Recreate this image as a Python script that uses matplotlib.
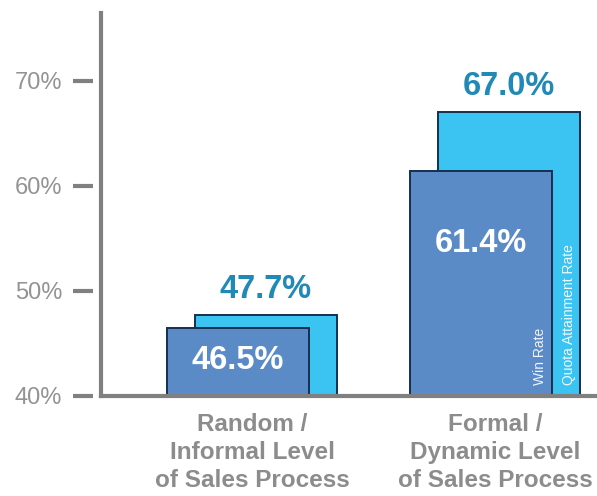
import matplotlib
matplotlib.use("Agg")
import matplotlib.pyplot as plt
import matplotlib.transforms as mtransforms
import numpy as np

plt.rcParams["font.family"] = ["Liberation Sans", "DejaVu Sans"]

# data
categories = ["Random /\nInformal Level\nof Sales Process",
              "Formal /\nDynamic Level\nof Sales Process"]
win_rate = [46.5, 61.4]
quota_rate = [47.7, 67.0]
yticks = [40, 50, 60, 70]
ytick_labels = ["40%", "50%", "60%", "70%"]

# style
FRONT = "#5a8bc7"
BACK = "#3bc4f2"
EDGE = "#14304f"
AXIS = "#808080"
TEXT_GRAY = "#8c8c8c"
VALUE_BLUE = "#2189b5"
BAR_W = 0.588
OFFSET = 0.115
inner_label_y = [43.4, 54.5]

fig = plt.figure(figsize=(5.97, 4.96), dpi=100, facecolor="white")
W, H = 597, 496
ax = fig.add_axes([101 / W, (H - 396) / H, (W - 101) / W, (396 - 13) / H])

x = np.arange(len(categories))
xb = x + OFFSET / 2
xf = x - OFFSET / 2
ax.bar(xb, np.array(quota_rate) - 40, bottom=40, width=BAR_W, color=BACK,
       edgecolor=EDGE, linewidth=1.4, zorder=2)
ax.bar(xf, np.array(win_rate) - 40, bottom=40, width=BAR_W, color=FRONT,
       edgecolor=EDGE, linewidth=1.4, zorder=3)

for xi, v in zip(xb, quota_rate):
    ax.annotate(f"{v:.1f}%", (xi, v), xytext=(0, 7.5), textcoords="offset points",
                ha="center", va="bottom", fontsize=23.5, fontweight="bold",
                color=VALUE_BLUE)
for xi, v, ly in zip(xf, win_rate, inner_label_y):
    ax.text(xi, ly, f"{v:.1f}%", ha="center", va="center", fontsize=23.5,
            fontweight="bold", color="white", zorder=5)

# series names inside the second group
ax.text(xf[1] + BAR_W / 2 - 0.05, 41.0, "Win Rate", rotation=90, ha="center",
        va="bottom", fontsize=10, color="#f0f4fa", zorder=5)
ax.text(xb[1] + BAR_W / 2 - 0.045, 41.0, "Quota Attainment Rate", rotation=90,
        ha="center", va="bottom", fontsize=10, color="#f0f8fc", zorder=5)

ax.set_xlim((101 - 252) / 243, (597 - 252) / 243)
ax.set_ylim(40, 40 + 383 / 10.5)

for s in ["top", "right"]:
    ax.spines[s].set_visible(False)
for s in ["left", "bottom"]:
    ax.spines[s].set_color(AXIS)
    ax.spines[s].set_linewidth(3)
    ax.spines[s].set_zorder(4)

ax.set_xticks(x)
ax.set_xticklabels(categories, fontsize=17.5, fontweight="bold", color=TEXT_GRAY,
                   linespacing=1.3)
ax.set_yticks(yticks)
ax.set_yticklabels(ytick_labels, fontsize=17, color="#939393")
ax.tick_params(axis="x", length=0, pad=12)
ax.tick_params(axis="y", length=0, pad=28)

# detached tick dashes left of the axis
trans = mtransforms.blended_transform_factory(ax.transAxes, ax.transData)
for t in yticks:
    ax.plot([-28 / 496, -8 / 496], [t, t], transform=trans, color=AXIS,
            linewidth=3, clip_on=False, solid_capstyle="butt")

fig.savefig("out.png", dpi=100, facecolor="white")
